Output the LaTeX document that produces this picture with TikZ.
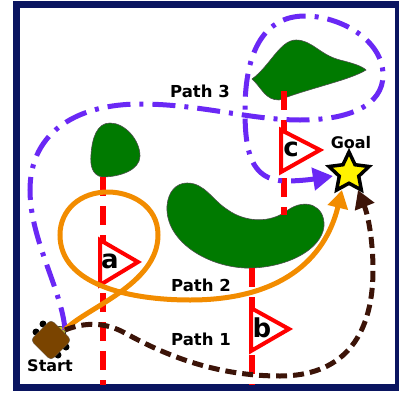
\documentclass[tikz,border=0pt]{standalone}
\usepackage{fontspec}
\usepackage{xcolor}
\setmainfont{DejaVu Sans}
\usetikzlibrary{arrows.meta,positioning,shapes.geometric}
\definecolor{framenavy}{HTML}{0A1560}
\definecolor{islandgreen}{HTML}{007A00}
\definecolor{pathviolet}{HTML}{6A28F5}
\definecolor{pathorange}{HTML}{F28C00}
\definecolor{pathbrown}{HTML}{3C1408}
\definecolor{robotbrown}{HTML}{7A4400}
\begin{document}
\begin{tikzpicture}[
  x=1pt, y=-1pt,
  island/.style={draw=black!70, fill=islandgreen, line width=0.6pt},
  gate/.style={draw=red, line width=4pt, line join=miter, fill=white},
  gateline/.style={red, line width=6.5pt, dash pattern=on 19pt off 10pt},
  pathlabel/.style={font=\bfseries\fontsize{16.5}{16.5}\selectfont, inner sep=0pt},
  letterlabel/.style={font=\bfseries\fontsize{26}{26}\selectfont, inner sep=0pt},
  endlabel/.style={font=\bfseries\fontsize{16}{16}\selectfont, inner sep=0pt},
  wheel/.style={circle, fill=black, inner sep=0pt, minimum size=7pt}
]
\useasboundingbox (0,0) rectangle (399,394);
\draw[framenavy, line width=7pt] (16.5,4.5) rectangle (398,387.5);
% Islands
\draw[island] (110,123) .. controls (125,123) and (140,140) .. (140,156)
  .. controls (140,170) and (120,177) .. (102,177)
  .. controls (92,175) and (90,165) .. (91,155)
  .. controls (92,138) and (97,123) .. (110,123) -- cycle;
\draw[island] (187,183) .. controls (205,183) and (212,200) .. (228,210)
  .. controls (245,222) and (270,224) .. (288,210)
  .. controls (305,198) and (325,205) .. (324,226)
  .. controls (322,250) and (285,269) .. (245,268)
  .. controls (205,266) and (165,240) .. (167,206)
  .. controls (168,192) and (176,183) .. (187,183) -- cycle;
\draw[island] (252,79) .. controls (270,66) and (280,40) .. (296,40)
  .. controls (312,40) and (320,55) .. (340,60)
  .. controls (352,63) and (362,66) .. (366,70)
  .. controls (350,80) and (310,88) .. (279,100)
  .. controls (265,100) and (262,88) .. (252,79) -- cycle;
% Gate lines
\draw[gateline] (103,177) -- (103,385);
\draw[gateline] (252,268) -- (252,385);
\draw[gateline] (284,91) -- (284,215);
% Gate flags
\draw[gate] (100,240) -- (138,262) -- (100,285) -- cycle;
\draw[gate] (251,308) -- (289,329) -- (251,351) -- cycle;
\draw[gate] (281,130) -- (320,150) -- (281,172) -- cycle;
\node[letterlabel] (gatea) at (110,261) {a};
\node[letterlabel] (gateb) at (262,328) {b};
\node[letterlabel] (gatec) at (291,149) {c};
% Start and goal
\fill[yellow!80!black, draw=black, line width=0.5pt] (55,326) -- (64,327) -- (66,335) -- cycle;
\node[wheel] (wheela) at (43,324) {};
\node[wheel] (wheelb) at (36,332) {};
\node[wheel] (wheelc) at (66,347) {};
\node[wheel] (wheeld) at (58,355) {};
\node[draw=black!60, fill=robotbrown, minimum size=29pt, inner sep=0pt, rounded corners=4pt, rotate=45, line width=0.3pt] (robot) at (51,340) {};
\node[endlabel] (starttext) at (50,366) {Start};
\node[star, star points=5, star point ratio=2.05, minimum size=42pt, inner sep=0pt, fill=yellow, draw=black, line width=3.5pt] (goal) at (349,173) {};
\node[endlabel] (goaltext) at (351,143) {Goal};
\coordinate (startpt) at (65,330);
\coordinate (goalviolet) at (333,176);
\coordinate (goalorange) at (342,190);
\coordinate (goalbrown) at (358,190);
% Paths
\draw[pathviolet, line width=5pt, dash pattern=on 23pt off 9pt on 4pt off 9pt, -{Triangle[length=20pt,width=22pt]}]
  (startpt) .. controls (62,290) and (30,240) .. (30,190)
  .. controls (30,130) and (80,104) .. (140,104)
  .. controls (200,104) and (250,120) .. (300,120)
  .. controls (350,120) and (383,105) .. (383,75)
  .. controls (383,40) and (340,16) .. (305,16)
  .. controls (265,16) and (245,50) .. (245,110)
  .. controls (245,150) and (250,180) .. (285,181)
  .. controls (305,181) and (320,178) .. (goalviolet);
\draw[pathorange, line width=5pt, -{Triangle[length=18pt,width=20pt]}]
  (startpt) .. controls (85,308) and (158,285) .. (158,235)
  .. controls (158,205) and (130,192) .. (108,192)
  .. controls (80,192) and (60,210) .. (60,235)
  .. controls (60,285) and (130,300) .. (190,300)
  .. controls (280,300) and (325,260) .. (goalorange);
\draw[pathbrown, line width=5pt, dash pattern=on 11pt off 6pt, -{Triangle[length=18pt,width=20pt]}]
  (startpt) .. controls (85,322) and (105,322) .. (125,333)
  .. controls (170,358) and (220,376) .. (280,376)
  .. controls (340,376) and (373,340) .. (373,270)
  .. controls (373,240) and (368,215) .. (goalbrown);
% Path labels
\node[pathlabel] (pathc) at (200,91) {Path 3};
\node[pathlabel] (pathb) at (201,285) {Path 2};
\node[pathlabel] (patha) at (201,339) {Path 1};
\end{tikzpicture}
\end{document}
